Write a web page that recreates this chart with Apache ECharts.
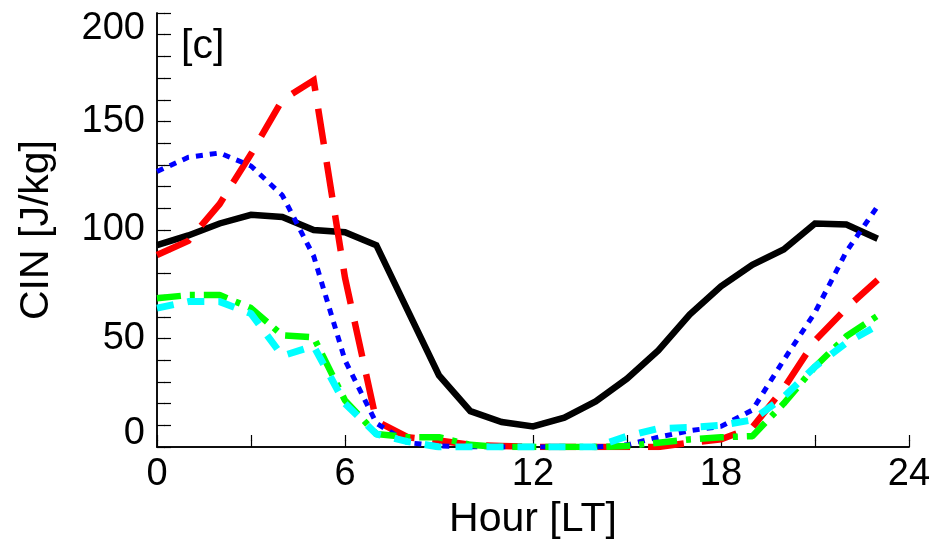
<!DOCTYPE html>
<html>
<head>
<meta charset="utf-8">
<script src="https://cdn.jsdelivr.net/npm/echarts@6/dist/echarts.min.js"></script>
<style>html,body{margin:0;padding:0;background:#fff}#c{width:933px;height:545px}</style>
</head>
<body>
<div id="c"></div>
<script>
// Hours (LT) and CIN values [J/kg]
var hours = [0,1,2,3,4,5,6,7,8,9,10,11,12,13,14,15,16,17,18,19,20,21,22,23];
var cinBlack = [93, 97.5, 103, 107, 106, 100, 99, 93, 63, 33, 16.5, 11.5, 9.5, 13.5, 21, 31.5, 44.5, 61, 74, 84, 91, 103, 102.5, 96];
var cinRed   = [88.5, 95, 112, 135, 160, 169, 78, 12, 4.5, 3, 1, 0.5, 0, 0, 0, 0, 0, 2, 3.5, 9, 27, 49, 64, 77];
var cinBlue  = [127, 133.5, 135.5, 129.5, 116, 88, 40, 11, 2, 0.5, 0, 0, 0, 0, 0, 1, 4.5, 7.5, 9.5, 17, 40, 62, 90, 111];
var cinGreen = [68.5, 70, 70, 64, 51.5, 50.5, 21.5, 6, 4.5, 4.5, 1, 0, 0, 0, 0, 0.5, 2, 3.5, 4.5, 5, 20, 37, 51, 60.5];
var cinCyan  = [64, 67, 67, 61.5, 42, 46.5, 20, 6, 2.5, 0, 0, 0, 0, 0, 0, 5, 8.5, 9, 10, 12.5, 23, 37, 48, 56];
var xTicks = [0, 6, 12, 18, 24];
var yTicks = [0, 50, 100, 150, 200];
var panelLabel = '[c]';
var xTitle = 'Hour [LT]';
var yTitle = 'CIN [J/kg]';

function pairs(vals){ return hours.map(function(h,i){ return [h, vals[i]]; }); }

var FONT = 'Liberation Sans, Arial, Helvetica, sans-serif';
var axisLine = {show:true, lineStyle:{color:'#000', width:1.5}};
var xMin = xTicks[0], xMax = xTicks[xTicks.length-1], xInt = xTicks[1]-xTicks[0];
var yMin = yTicks[0], yMax = yTicks[yTicks.length-1], yInt = yTicks[1]-yTicks[0];

// tick-only axes shifted inward so that their outward ticks end on the frame
function tickAxisX(pos, len){
  return {type:'value', position:pos, offset:-len, min:xMin, max:xMax, interval:xInt,
    axisLine:{show:false}, axisTick:{show:true, length:len, lineStyle:{color:'#000', width:1.2}},
    minorTick:{show:true, splitNumber:2, length:len, lineStyle:{color:'#000', width:1.2}},
    splitLine:{show:false}, axisLabel:{show:false}};
}
function tickAxisY(pos, len){
  return {type:'value', position:pos, offset:-len, min:yMin, max:yMax, interval:yInt,
    axisLine:{show:false}, axisTick:{show:true, length:len, lineStyle:{color:'#000', width:1.2}},
    minorTick:{show:true, splitNumber:5, length:len, lineStyle:{color:'#000', width:1.2}},
    splitLine:{show:false}, axisLabel:{show:false}};
}

var chart = echarts.init(document.getElementById('c'), null, {renderer:'canvas'});
chart.setOption({
  animation:false,
  backgroundColor:'#fff',
  grid:{left:157, right:24, top:13, bottom:98, containLabel:false, outerBoundsMode:'none'},
  graphic:[{type:'text', left:181, top:26, style:{text:panelLabel, font:'41px ' + FONT, fill:'#000'}}],
  xAxis:[
    {type:'value', position:'bottom', min:xMin, max:xMax, interval:xInt,
     axisLine:axisLine, axisTick:{show:false}, splitLine:{show:false},
     axisLabel:{color:'#000', fontSize:38, fontFamily:FONT, margin:9},
     name:xTitle, nameLocation:'middle', nameGap:50, nameTextStyle:{color:'#000', fontSize:41, fontFamily:FONT}},
    {type:'value', position:'top', min:xMin, max:xMax, interval:xInt,
     axisLine:axisLine, axisTick:{show:false}, splitLine:{show:false}, axisLabel:{show:false}},
    tickAxisX('bottom', 7),
    tickAxisX('top', 6)
  ],
  yAxis:[
    {type:'value', position:'left', min:yMin, max:yMax, interval:yInt,
     axisLine:axisLine, axisTick:{show:false}, splitLine:{show:false},
     axisLabel:{color:'#000', fontSize:38, fontFamily:FONT, margin:12,
       formatter:function(v){ if(v===yMax) return '{t|' + v + '}'; if(v===yMin) return '{b|' + v + '}'; return '' + v; },
       rich:{t:{fontSize:38, fontFamily:FONT, color:'#000', padding:[32,0,0,0]},
             b:{fontSize:38, fontFamily:FONT, color:'#000', padding:[0,0,26,0]}}},
     name:yTitle, nameLocation:'middle', nameGap:100, nameRotate:90,
     nameTextStyle:{color:'#000', fontSize:41, fontFamily:FONT}},
    {type:'value', position:'right', min:yMin, max:yMax, interval:yInt,
     axisLine:axisLine, axisTick:{show:false}, splitLine:{show:false}, axisLabel:{show:false}},
    tickAxisY('left', 8),
    tickAxisY('right', 7)
  ],
  series:[
    {type:'line', data:pairs(cinBlack), showSymbol:false, lineStyle:{color:'#000000', width:6.5, type:'solid', join:'miter'}},
    {type:'line', data:pairs(cinRed), showSymbol:false, lineStyle:{color:'#ff0000', width:6.5, type:[36,18], cap:'butt', join:'miter'}},
    {type:'line', data:pairs(cinBlue), showSymbol:false, lineStyle:{color:'#0000ff', width:5, type:[7,7], cap:'butt'}},
    {type:'line', data:pairs(cinGreen), showSymbol:false, lineStyle:{color:'#00ff00', width:6.5, type:[24,9,5,9], cap:'butt'}},
    {type:'line', data:pairs(cinCyan), showSymbol:false, lineStyle:{color:'#00ffff', width:7, type:[17,14], cap:'butt'}}
  ]
});
</script>
</body>
</html>
